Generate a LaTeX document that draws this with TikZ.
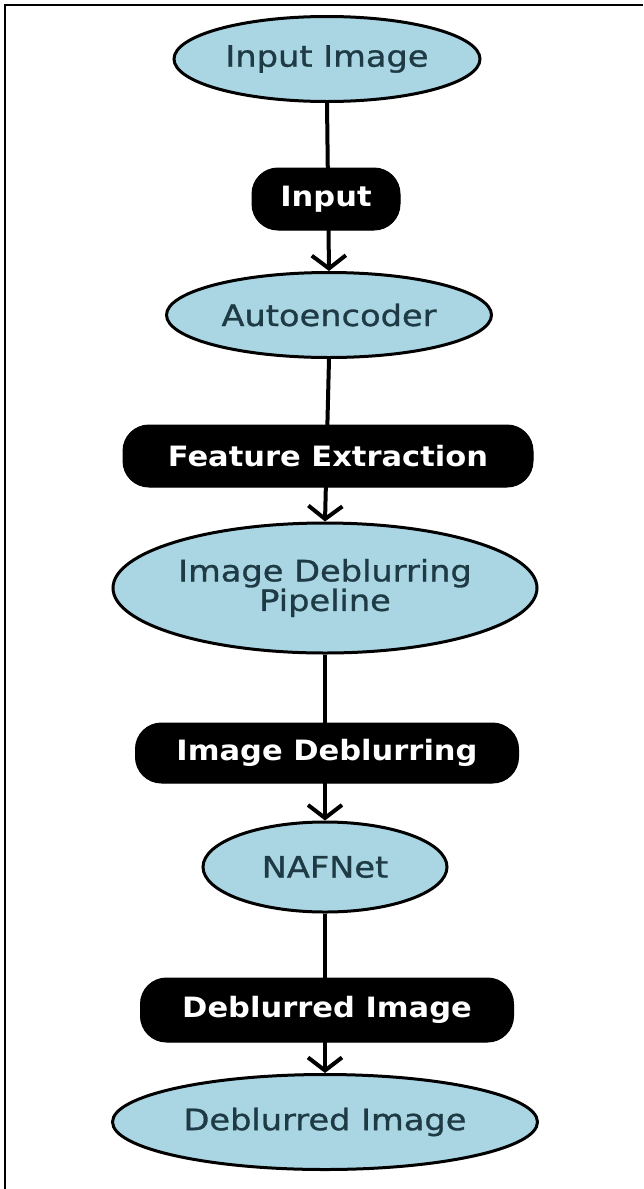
\documentclass[tikz,border=0pt]{standalone}
\usepackage{fontspec}
\setmainfont{DejaVu Sans}
\newfontfamily\ellfont[FakeStretch=1.14,FakeBold=1]{DejaVu Sans}
\newfontfamily\lblfont[FakeStretch=1.09]{DejaVu Sans Bold}
\usetikzlibrary{shapes.geometric,arrows.meta}
\definecolor{ellfill}{RGB}{170,214,228}
\definecolor{elltext}{RGB}{30,58,68}
\begin{document}
\begin{tikzpicture}[x=1pt,y=-1pt,
  ell/.style={ellipse,draw=black,line width=3pt,fill=ellfill,inner sep=0pt,
    text=elltext,font=\ellfont\fontsize{29.5}{27}\selectfont,align=center},
  lbl/.style={rectangle,rounded corners=26pt,fill=black,draw=black,line width=1pt,
    text=white,font=\lblfont\fontsize{28}{28}\selectfont,inner sep=0pt},
  flow/.style={line width=4pt,-{Straight Barb[length=13pt,width=34pt,line width=4pt]}}]
\fill[white] (0,0) rectangle (643,1189);
\useasboundingbox (0,0) rectangle (643,1189);
\draw[line width=2.5pt] (5,1189) -- (5,5) -- (643,5);
% ellipses
\node[ell,minimum width=306pt,minimum height=85pt] (n1) at (327,59) {Input Image};
\node[ell,minimum width=325pt,minimum height=85pt] (n2) at (329,315) {Autoencoder};
\node[ell,minimum width=424pt,minimum height=130pt] (n3) at (325,588) {Image Deblurring\\Pipeline};
\node[ell,minimum width=244pt,minimum height=90pt] (n4) at (325,867) {NAFNet};
\node[ell,minimum width=425pt,minimum height=95pt] (n5) at (325,1122) {Deblurred Image};
% connectors
\draw[flow] (n1.south) -- (n2.north);
\draw[flow] (n2.south) -- (n3.north);
\draw[flow] (n3.south) -- (n4.north);
\draw[flow] (n4.south) -- (n5.north);
% labels
\node[lbl,minimum width=148pt,minimum height=62pt] (l1) at (326,199) {Input};
\node[lbl,minimum width=410pt,minimum height=62pt] (l2) at (328,456) {Feature Extraction};
\node[lbl,minimum width=383pt,minimum height=60pt] (l3) at (327,753) {Image Deblurring};
\node[lbl,minimum width=373pt,minimum height=64pt] (l4) at (327,1010) {Deblurred Image};
\end{tikzpicture}
\end{document}
